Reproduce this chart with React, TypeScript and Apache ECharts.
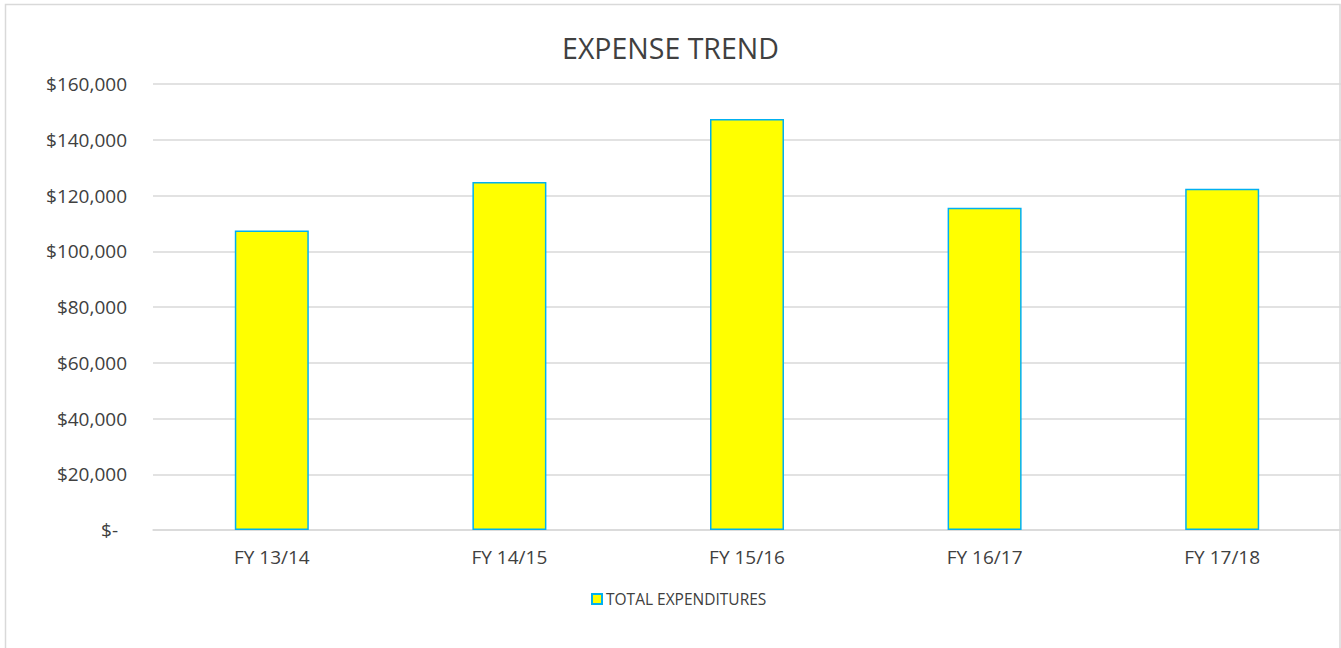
import React, { useEffect, useRef } from "react";
import * as echarts from "echarts";

const categories = ["FY 13/14", "FY 14/15", "FY 15/16", "FY 16/17", "FY 17/18"];
const totalExpenditures = [107400, 124800, 147400, 115600, 122400];
const seriesName = "TOTAL EXPENDITURES";
const titleText = "EXPENSE TREND";

export default function App() {
  const ref = useRef<HTMLDivElement>(null);
  useEffect(() => {
    if (!ref.current) return;
    const chart = echarts.init(ref.current, null, { renderer: "svg" });
    const font = "'Open Sans', 'Liberation Sans', sans-serif";
    chart.setOption({
      animation: false,
      backgroundColor: "#ffffff",
      textStyle: { fontFamily: font },
      title: {
        text: titleText,
        left: "center",
        top: 28,
        textStyle: { fontFamily: font, fontSize: 28.5, fontWeight: "normal", color: "#404040" },
      },
      graphic: [
        {
          type: "rect",
          shape: { x: 5.5, y: 4.5, width: 1334.5, height: 670 },
          style: { fill: "none", stroke: "#d9d9d9", lineWidth: 1.5 },
          silent: true,
          z: 100,
        },
      ],
      legend: {
        top: 586,
        left: 586,
        itemWidth: 10,
        itemHeight: 10,
        itemGap: 10,
        icon: "rect",
        textStyle: { fontFamily: font, fontSize: 15.5, color: "#404040", padding: [0, 0, 0, -1] },
        data: [seriesName],
      },
      grid: { left: 153, top: 84, width: 1190, height: 446, containLabel: false },
      xAxis: {
        type: "category",
        data: categories,
        axisLine: { show: true, lineStyle: { color: "#d9d9d9", width: 1.5 } },
        axisTick: { show: false },
        axisLabel: { fontFamily: font, fontSize: 19, color: "#404040", margin: 17 },
      },
      yAxis: {
        type: "value",
        min: 0,
        max: 160000,
        interval: 20000,
        axisLine: { show: false },
        axisTick: { show: false },
        splitLine: { lineStyle: { color: "#d9d9d9", width: 1.5 } },
        axisLabel: {
          fontFamily: font,
          fontSize: 19,
          color: "#404040",
          margin: 26,
          formatter: (v: number) =>
            v === 0 ? "{z|$-}" : "$" + v.toLocaleString("en-US"),
          rich: { z: { fontFamily: font, fontSize: 19, color: "#404040", padding: [0, 9, 0, 0] } },
        },
      },
      series: [
        {
          name: seriesName,
          type: "bar",
          data: totalExpenditures,
          barWidth: 74,
          itemStyle: { color: "#ffff00", borderColor: "#00b0f0", borderWidth: 1.5 },
        },
      ],
    });
    return () => chart.dispose();
  }, []);
  return (
    <div
      ref={ref}
      style={{ position: "absolute", left: 0, top: 0, width: 1341, height: 648 }}
    />
  );
}
